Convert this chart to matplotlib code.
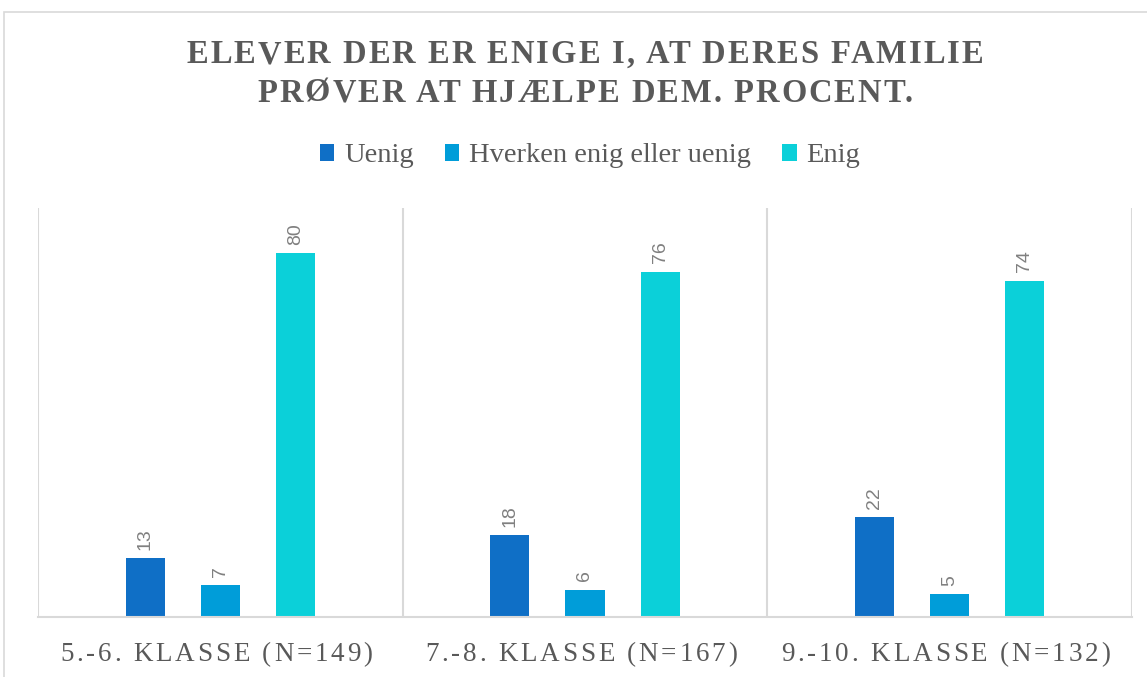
import numpy as np
import matplotlib.pyplot as plt
from matplotlib.patches import Rectangle
from matplotlib.font_manager import FontProperties
from matplotlib.transforms import IdentityTransform

groups = ["5.-6. KLASSE (N=149)", "7.-8. KLASSE (N=167)", "9.-10. KLASSE (N=132)"]
series = ["Uenig", "Hverken enig eller uenig", "Enig"]
uenig = [13, 18, 22]
hverken = [7, 6, 5]
enig = [80, 76, 74]
colors = ["#0F6FC6", "#009DD9", "#0BD0D9"]
title_lines = ["ELEVER DER ER ENIGE I, AT DERES FAMILIE", "PRØVER AT HJÆLPE DEM. PROCENT."]

plt.rcParams['font.family'] = ['Liberation Serif', 'DejaVu Serif']

W, H = 1147, 677
fig = plt.figure(figsize=(W / 100, H / 100), dpi=100)
fig.patches.append(Rectangle((4 / W, -0.01), 1.1, 1 - 12 / H + 0.01, transform=fig.transFigure,
                             fill=False, edgecolor="#D9D9D9", linewidth=1.2))
renderer = fig.canvas.get_renderer()


def spaced_text(s, cx, base_y, size, track, weight="normal", color="#595959"):
    # draw text letter by letter with extra spacing (pixel coords, y from top)
    fp = FontProperties(family=['Liberation Serif'], size=size, weight=weight)
    tw = lambda t: renderer.get_text_width_height_descent(t, fp, ismath=False)[0]
    total = tw(s) + track * (len(s) - 1)
    x0 = cx - total / 2
    for i, c in enumerate(s):
        if c == " ":
            continue
        xi = x0 + tw(s[:i + 1]) - tw(c) + i * track
        fig.text(xi, H - base_y, c, transform=IdentityTransform(), fontproperties=fp,
                 ha="left", va="baseline", color=color)


ax = fig.add_axes([38 / W, (H - 617) / H, (1132 - 38) / W, (617 - 208) / H])
x = np.arange(len(groups))
w = 0.107
off = 0.206
for i, (vals, name) in enumerate(zip([uenig, hverken, enig], series)):
    pos = x + (i - 1) * off
    ax.bar(pos, vals, w, color=colors[i], label=name)
    for p, v in zip(pos, vals):
        ax.annotate(str(v), (p, v), xytext=(0, 6), textcoords="offset points",
                    rotation=90, ha="center", va="bottom", fontsize=14, color="#808080",
                    family=["Liberation Sans"])

ax.set_xlim(-0.5, 2.5)
ax.set_ylim(0, 90)
ax.set_yticks([])
ax.set_xticks([])
for s in ["top", "right", "left"]:
    ax.spines[s].set_visible(False)
ax.spines["bottom"].set_color("#D9D9D9")
ax.spines["bottom"].set_linewidth(1.5)
for xv in [-0.5, 0.5, 1.5, 2.5]:
    ax.axvline(xv, color="#D9D9D9", linewidth=1.5)

# category labels under each group
for xi, g in zip(x, groups):
    px = ax.transData.transform((xi, 0))[0]
    spaced_text(g, px - 4, 661, 19.5, 2.8)

# title
spaced_text(title_lines[0], 585, 63, 23.5, 2.0, weight="bold")
spaced_text(title_lines[1], 585, 102, 23.5, 2.0, weight="bold")

handles, labels = ax.get_legend_handles_labels()
fig.legend(handles, labels, loc="center", bbox_to_anchor=(590 / W, 1 - 156 / H), ncol=3, frameon=False,
           fontsize=20.5, handlelength=0.5, handleheight=0.5, handletextpad=0.35, columnspacing=1.1,
           labelcolor="#595959")

fig.savefig("out.png", dpi=100)
